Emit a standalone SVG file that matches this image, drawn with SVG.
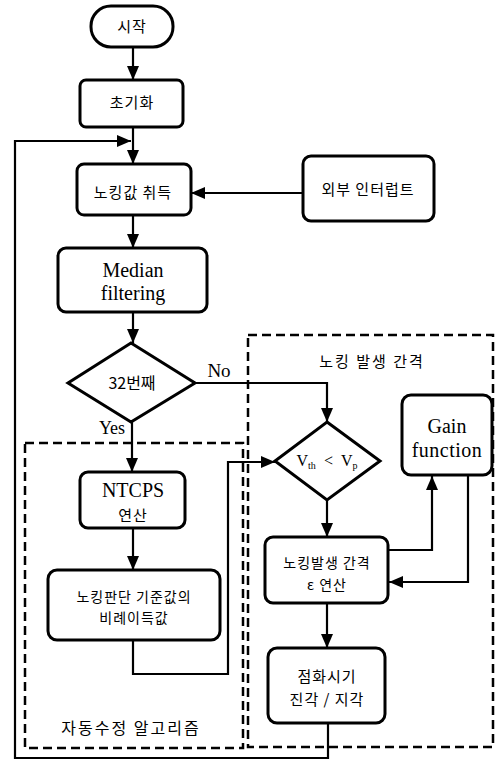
<svg xmlns="http://www.w3.org/2000/svg" width="504" height="762" viewBox="0 0 504 762">
<style>
.box{fill:#fff;stroke:#000;stroke-width:3}
.dash{fill:none;stroke:#000;stroke-width:2.5;stroke-dasharray:9 5}
.conn{fill:none;stroke:#000;stroke-width:2.2}
.ko{font-family:"Noto Sans CJK KR","Noto Sans",sans-serif;font-size:14px;fill:#000;text-anchor:middle;letter-spacing:1px}
.en{font-family:"Liberation Serif","Times New Roman",serif;font-size:20px;fill:#000;text-anchor:middle}
</style>
<defs>
<marker id="arr" markerUnits="userSpaceOnUse" markerWidth="14" markerHeight="12" refX="14" refY="6" orient="auto">
<path d="M0,0 L14,6 L0,12 z" fill="#000"/>
</marker>
</defs>
<rect width="504" height="762" fill="#fff"/>

<g id="group-auto">
<rect class="dash" x="25" y="443" width="218" height="305"/>
<text class="ko" x="131" y="734" style="font-size:16px;letter-spacing:2px">자동수정 알고리즘</text>
</g>
<g id="group-interval">
<rect class="dash" x="248" y="335" width="245" height="412"/>
<text class="ko" x="372" y="367" style="font-size:15px;letter-spacing:2px">노킹 발생 간격</text>
</g>

<g id="connectors">
<path class="conn" d="M133,47 L133,80" marker-end="url(#arr)"/>
<path class="conn" d="M133,127 L133,164" marker-end="url(#arr)"/>
<path class="conn" d="M328,723 L328,758 L15,758 L15,141 L131,141" marker-end="url(#arr)"/>
<path class="conn" d="M303,193 L191,193" marker-end="url(#arr)"/>
<path class="conn" d="M133,215 L133,248" marker-end="url(#arr)"/>
<path class="conn" d="M133,312 L133,343" marker-end="url(#arr)"/>
<path class="conn" d="M195,383 L327,383 L327,422" marker-end="url(#arr)"/>
<path class="conn" d="M132,422 L132,472" marker-end="url(#arr)"/>
<path class="conn" d="M133,528 L133,570" marker-end="url(#arr)"/>
<path class="conn" d="M133,640 L133,674 L228,674 L228,462 L275,462" marker-end="url(#arr)"/>
<path class="conn" d="M327,500 L327,537" marker-end="url(#arr)"/>
<path class="conn" d="M388,550 L432,550 L432,476" marker-end="url(#arr)"/>
<path class="conn" d="M468,475 L468,582 L389,582" marker-end="url(#arr)"/>
<path class="conn" d="M327,603 L327,648" marker-end="url(#arr)"/>
<text class="en" x="219" y="377" style="font-size:19px">No</text>
<text class="en" x="112" y="434" style="font-size:18px">Yes</text>
</g>

<g id="start">
<rect class="box" x="91" y="6" width="82" height="41" rx="20"/>
<text class="ko" x="132" y="32" style="font-size:15px">시작</text>
</g>
<g id="init">
<rect class="box" x="80" y="80" width="103" height="47" rx="6"/>
<text class="ko" x="132" y="108" style="font-size:15px">초기화</text>
</g>
<g id="acquire">
<rect class="box" x="77" y="164" width="114" height="51" rx="7"/>
<text class="ko" x="133" y="198" style="font-size:15px">노킹값 취득</text>
</g>
<g id="interrupt">
<rect class="box" x="303" y="156" width="131" height="65" rx="8"/>
<text class="ko" x="368" y="195" style="font-size:15px">외부 인터럽트</text>
</g>
<g id="median">
<rect class="box" x="58" y="248" width="149" height="64" rx="8"/>
<text class="en" x="133" y="277">Median</text>
<text class="en" x="133" y="300">filtering</text>
</g>
<g id="decision32">
<path class="box" d="M131,343 L195,383 L131,422 L68,383 Z"/>
<text class="ko" x="132" y="389" style="font-size:16px;letter-spacing:0">32번째</text>
</g>
<g id="ntcps">
<rect class="box" x="80" y="472" width="105" height="56" rx="8"/>
<text class="en" x="133" y="497">NTCPS</text>
<text class="ko" x="133" y="521" style="font-size:15px">연산</text>
</g>
<g id="gainratio">
<rect class="box" x="48" y="570" width="172" height="70" rx="9"/>
<text class="ko" x="134" y="602">노킹판단 기준값의</text>
<text class="ko" x="134" y="623">비례이득값</text>
</g>
<g id="compare">
<path class="box" d="M327,422 L380,461 L327,500 L275,461 Z"/>
<text class="en" x="327" y="466" style="font-size:16px">V<tspan font-size="10" dy="3">th</tspan><tspan dy="-3">&#160;&#160;&lt;&#160;&#160;V</tspan><tspan font-size="10" dy="3">p</tspan></text>
</g>
<g id="gain">
<rect class="box" x="402" y="395" width="90" height="80" rx="9"/>
<text class="en" x="447" y="433">Gain</text>
<text class="en" x="447" y="457" style="letter-spacing:0.5px">function</text>
</g>
<g id="epsilon">
<rect class="box" x="265" y="537" width="123" height="66" rx="8"/>
<text class="ko" x="327" y="568">노킹발생 간격</text>
<text class="ko" x="327" y="590">ε 연산</text>
</g>
<g id="timing">
<rect class="box" x="268" y="648" width="117" height="75" rx="9"/>
<text class="ko" x="327" y="682" style="font-size:15px">점화시기</text>
<text class="ko" x="327" y="705" style="font-size:15px">진각 / 지각</text>
</g>
</svg>
